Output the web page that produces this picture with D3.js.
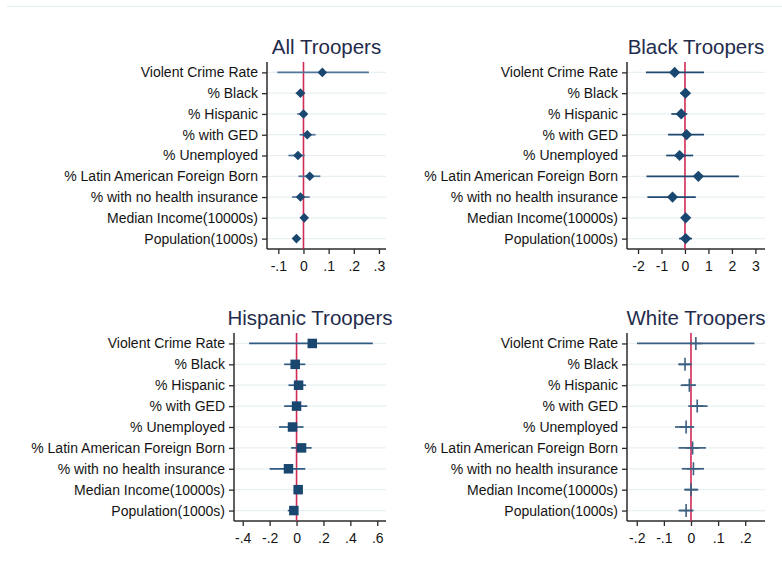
<!DOCTYPE html>
<html>
<head>
<meta charset="utf-8">
<script src="https://cdn.jsdelivr.net/npm/d3@7/dist/d3.min.js"></script>
<style>
  html, body { margin: 0; padding: 0; background: #ffffff; }
  svg { display: block; font-family: Arial, "Liberation Sans", sans-serif; }
</style>
</head>
<body>
<svg id="chart" width="782" height="574"></svg>
<script>
// Covariates, listed top to bottom
const covariates = [
  "Violent Crime Rate", "% Black", "% Hispanic", "% with GED", "% Unemployed",
  "% Latin American Foreign Born", "% with no health insurance",
  "Median Income(10000s)", "Population(1000s)"
];

// Point estimates and confidence bounds per trooper group
const allCoef = [0.075, -0.012, 0.0, 0.015, -0.022, 0.025, -0.012, 0.003, -0.028];
const allLo   = [-0.104, -0.031, -0.025, -0.015, -0.060, -0.020, -0.046, -0.004, -0.034];
const allHi   = [0.260, 0.006, 0.015, 0.048, 0.005, 0.067, 0.025, 0.009, -0.022];

const blackCoef = [-0.44, 0.02, -0.16, 0.07, -0.23, 0.57, -0.53, 0.03, 0.03];
const blackLo   = [-1.66, -0.20, -0.58, -0.72, -0.80, -1.64, -1.60, -0.15, -0.25];
const blackHi   = [0.81, 0.22, 0.10, 0.81, 0.35, 2.30, 0.46, 0.20, 0.30];

const hispCoef = [0.117, -0.010, 0.015, 0.000, -0.030, 0.037, -0.060, 0.012, -0.020];
const hispLo   = [-0.353, -0.092, -0.060, -0.092, -0.130, -0.040, -0.200, -0.005, -0.065];
const hispHi   = [0.567, 0.065, 0.070, 0.080, 0.052, 0.112, 0.065, 0.030, 0.010];

const whiteCoef = [0.018, -0.022, -0.006, 0.023, -0.018, 0.006, 0.009, 0.000, -0.018];
const whiteLo   = [-0.199, -0.046, -0.038, -0.010, -0.059, -0.046, -0.034, -0.024, -0.046];
const whiteHi   = [0.234, 0.002, 0.017, 0.061, 0.012, 0.055, 0.048, 0.027, 0.009];

// Axis ticks per panel
const allTicks   = [-0.1, 0, 0.1, 0.2, 0.3];
const blackTicks = [-2, -1, 0, 1, 2, 3];
const hispTicks  = [-0.4, -0.2, 0, 0.2, 0.4, 0.6];
const whiteTicks = [-0.2, -0.1, 0, 0.1, 0.2];

const titles = ["All Troopers", "Black Troopers", "Hispanic Troopers", "White Troopers"];

const markerFill = "#1a476f";
const refColor = "#d02a55";
const gridColor = "#e8f0f2";
const axisColor = "#2b2b2b";
const textColor = "#141414";

const panels = [
  { title: titles[0], coef: allCoef, lo: allLo, hi: allHi, ticks: allTicks,
    domain: [-0.145, 0.328], box: { x0: 267, x1: 386, y0: 62, y1: 249 },
    marker: "diamondSmall", ciColor: "#52769a" },
  { title: titles[1], coef: blackCoef, lo: blackLo, hi: blackHi, ticks: blackTicks,
    domain: [-2.47, 3.41], box: { x0: 627, x1: 765, y0: 62, y1: 249 },
    marker: "diamond", ciColor: "#1f4870" },
  { title: titles[2], coef: hispCoef, lo: hispLo, hi: hispHi, ticks: hispTicks,
    domain: [-0.465, 0.665], box: { x0: 234, x1: 386, y0: 333, y1: 521 },
    marker: "square", ciColor: "#2f5a82" },
  { title: titles[3], coef: whiteCoef, lo: whiteLo, hi: whiteHi, ticks: whiteTicks,
    domain: [-0.236, 0.273], box: { x0: 627, x1: 765, y0: 333, y1: 521 },
    marker: "plus", ciColor: "#3b5f80" }
];

const svg = d3.select("#chart");

// faint rule along the top edge
svg.append("line")
  .attr("x1", 7).attr("x2", 782).attr("y1", 6.5).attr("y2", 6.5)
  .attr("stroke", "#e3ecee").attr("stroke-width", 1.2);

function fmtTick(v) {
  if (v === 0) return "0";
  if (Number.isInteger(v)) return String(v);
  const s = String(Math.abs(v)).replace(/^0/, "");
  return (v < 0 ? "-" : "") + s;
}

panels.forEach(p => {
  const b = p.box;
  const g = svg.append("g");

  const x = d3.scaleLinear().domain(p.domain).range([b.x0, b.x1]);
  const y = d3.scalePoint().domain(covariates).range([b.y0, b.y1]).padding(0.5);

  // horizontal gridlines at every covariate row
  g.append("g").selectAll("line").data(covariates).join("line")
    .attr("x1", b.x0).attr("x2", b.x1)
    .attr("y1", d => y(d)).attr("y2", d => y(d))
    .attr("stroke", gridColor).attr("stroke-width", 1.2);

  // y axis with covariate labels
  const yAxis = d3.axisLeft(y).tickSize(5).tickPadding(4).tickSizeOuter(0);
  const ya = g.append("g").attr("transform", `translate(${b.x0},0)`).call(yAxis);
  ya.select(".domain").attr("stroke", axisColor).attr("stroke-width", 1.5)
    .attr("d", `M0,${b.y0}V${b.y1}`);
  ya.selectAll(".tick line").attr("stroke", axisColor).attr("stroke-width", 1.3);
  ya.selectAll(".tick text").attr("fill", textColor).style("font-size", "14px");

  // x axis
  const xAxis = d3.axisBottom(x).tickValues(p.ticks).tickFormat(fmtTick)
    .tickSize(5).tickPadding(7).tickSizeOuter(0);
  const xa = g.append("g").attr("transform", `translate(0,${b.y1})`).call(xAxis);
  xa.select(".domain").attr("stroke", axisColor).attr("stroke-width", 1.5)
    .attr("d", `M${b.x0},0H${b.x1}`);
  xa.selectAll(".tick line").attr("stroke", axisColor).attr("stroke-width", 1.3);
  xa.selectAll(".tick text").attr("fill", textColor).style("font-size", "14px");

  // reference line at zero
  g.append("line")
    .attr("x1", x(0)).attr("x2", x(0)).attr("y1", b.y0).attr("y2", b.y1)
    .attr("stroke", refColor).attr("stroke-width", 1.6);

  const rows = covariates.map((c, i) => ({ c, est: p.coef[i], lo: p.lo[i], hi: p.hi[i] }));

  // confidence intervals
  g.append("g").selectAll("line").data(rows).join("line")
    .attr("x1", d => x(d.lo)).attr("x2", d => x(d.hi))
    .attr("y1", d => y(d.c)).attr("y2", d => y(d.c))
    .attr("stroke", p.ciColor).attr("stroke-width", 1.7);

  // point estimates
  const mg = g.append("g");
  if (p.marker === "plus") {
    const h = 6.5;
    mg.selectAll("path").data(rows).join("path")
      .attr("d", d => {
        const cx = x(d.est), cy = y(d.c);
        return `M${cx - h},${cy}H${cx + h}M${cx},${cy - h}V${cy + h}`;
      })
      .attr("stroke", p.ciColor).attr("stroke-width", 1.6).attr("fill", "none");
  } else if (p.marker === "square") {
    const s = 9.5;
    mg.selectAll("rect").data(rows).join("rect")
      .attr("x", d => x(d.est) - s / 2).attr("y", d => y(d.c) - s / 2)
      .attr("width", s).attr("height", s).attr("fill", markerFill);
  } else {
    const r = p.marker === "diamond" ? 5.6 : 4.8;
    mg.selectAll("path").data(rows).join("path")
      .attr("d", d => {
        const cx = x(d.est), cy = y(d.c);
        return `M${cx},${cy - r}L${cx + r},${cy}L${cx},${cy + r}L${cx - r},${cy}Z`;
      })
      .attr("fill", markerFill);
  }

  // panel title centred over the plot region
  g.append("text")
    .attr("x", (b.x0 + b.x1) / 2).attr("y", b.y0 - 8)
    .attr("text-anchor", "middle")
    .attr("fill", "#1f2c4c")
    .style("font-size", "20.5px")
    .text(p.title);
});
</script>
</body>
</html>
